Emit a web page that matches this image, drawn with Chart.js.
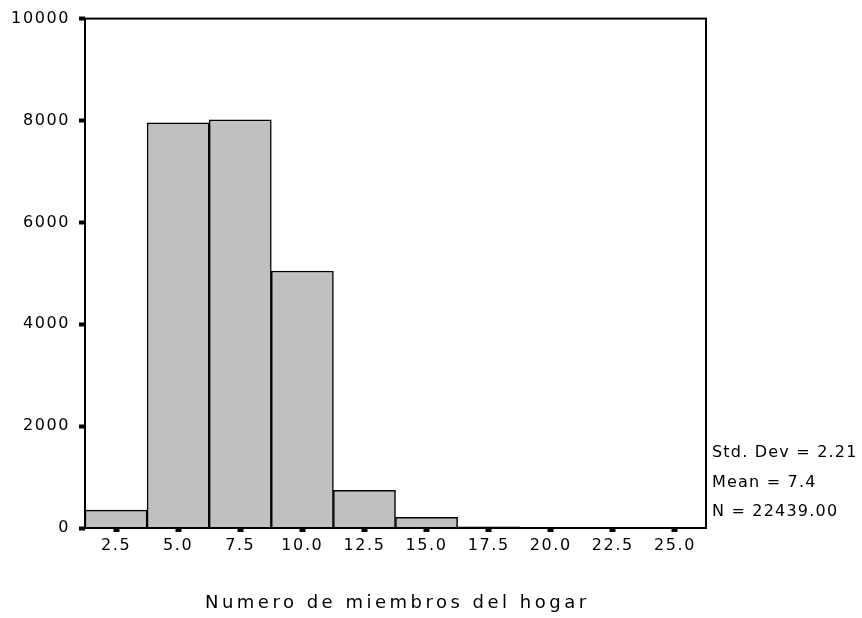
<!DOCTYPE html>
<html>
<head>
<meta charset="utf-8">
<title>Numero de miembros del hogar</title>
<script src="https://cdn.jsdelivr.net/npm/chart.js@4.4.1/dist/chart.umd.min.js"></script>
<style>
    html, body { margin: 0; padding: 0; background: #fff; }
    canvas { display: block; }
</style>
</head>
<body>
<canvas id="histChart" width="862" height="618"></canvas>
<script>
// Histogram data
const categories = ['2.5', '5.0', '7.5', '10.0', '12.5', '15.0', '17.5', '20.0', '22.5', '25.0'];
const counts = [350, 7955, 8015, 5045, 740, 210, 25, 0, 0, 0];
const yTicks = [0, 2000, 4000, 6000, 8000, 10000];
const statLines = ['Std. Dev = 2.21', 'Mean = 7.4', 'N = 22439.00'];
const axisTitle = 'Numero de miembros del hogar';

document.addEventListener('DOMContentLoaded', function() {
    const canvas = document.getElementById('histChart');
    const FONT = "'DejaVu Sans', Verdana, sans-serif";

    // draws letter-spaced text, left or centered
    function spacedText(ctx, text, x, y, size, spacing, align) {
        ctx.save();
        ctx.font = size + 'px ' + FONT;
        ctx.letterSpacing = spacing + 'px';
        ctx.fillStyle = '#000';
        ctx.textBaseline = 'alphabetic';
        ctx.textAlign = 'left';
        let w = ctx.measureText(text).width - spacing;
        if (align === 'center') x = x - w / 2;
        ctx.fillText(text, x, y);
        ctx.restore();
    }

    // frame, stats box and axis title
    const spssLook = {
        id: 'spssLook',
        beforeDraw: function(chart) {
            // spaced tick labels
            chart.ctx.letterSpacing = '1.6px';
        },
        afterDraw: function(chart) {
            const ctx = chart.ctx;
            const a = chart.chartArea;
            ctx.save();
            ctx.strokeStyle = '#000';
            ctx.lineWidth = 2;
            ctx.strokeRect(a.left, a.top, a.right - a.left, a.bottom - a.top);
            ctx.restore();

            statLines.forEach(function(line, i) {
                spacedText(ctx, line, a.right + 6, 457 + i * 29.5, 16, 1.2, 'left');
            });

            spacedText(ctx, axisTitle, (a.left + a.right) / 2, 608, 18, 3.5, 'center');
        }
    };

    new Chart(canvas, {
        type: 'bar',
        data: {
            labels: categories,
            datasets: [{
                data: counts,
                backgroundColor: '#c0c0c0',
                borderColor: '#000',
                borderWidth: 1.5,
                barPercentage: 1,
                categoryPercentage: 1
            }]
        },
        options: {
            responsive: false,
            animation: false,
            devicePixelRatio: 1,
            layout: { padding: { left: 0, right: 156, top: 18, bottom: 0 } },
            plugins: {
                legend: { display: false },
                tooltip: { enabled: false }
            },
            scales: {
                x: {
                    grid: {
                        offset: false,
                        drawOnChartArea: false,
                        drawTicks: true,
                        tickLength: 4,
                        tickWidth: 6,
                        tickColor: '#000'
                    },
                    border: { display: false },
                    ticks: {
                        color: '#000',
                        font: { family: FONT, size: 16 },
                        padding: 4,
                        maxRotation: 0,
                        autoSkip: false
                    },
                    afterFit: function(scale) { scale.height = 90; }
                },
                y: {
                    min: 0,
                    max: 10000,
                    grid: {
                        drawOnChartArea: false,
                        drawTicks: true,
                        tickLength: 6,
                        tickWidth: 4,
                        tickColor: '#000'
                    },
                    border: { display: false },
                    ticks: {
                        color: '#000',
                        font: { family: FONT, size: 16 },
                        padding: 9,
                        callback: function(value) { return String(value); }
                    },
                    afterBuildTicks: function(scale) {
                        scale.ticks = yTicks.map(v => ({ value: v }));
                    },
                    afterFit: function(scale) { scale.width = 85; }
                }
            }
        },
        plugins: [spssLook]
    });
});
</script>
</body>
</html>
